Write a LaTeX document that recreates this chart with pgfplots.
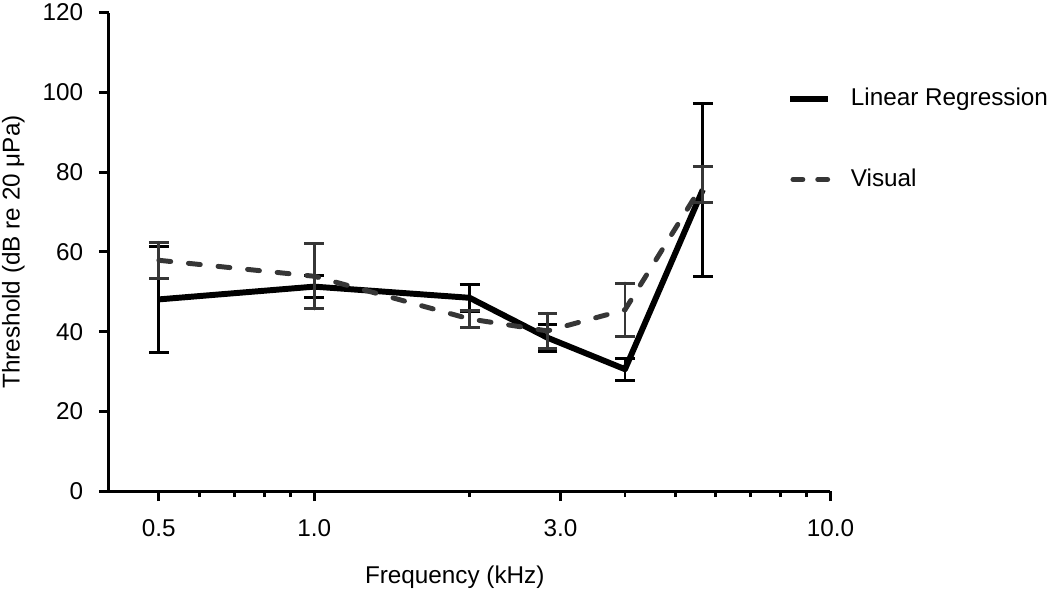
\documentclass[border=0pt]{standalone}
\usepackage{fontspec}
\setmainfont{Liberation Sans}
\usepackage{pgfplots}
\usepackage{pgfplotstable}
\pgfplotsset{compat=1.18}
\definecolor{dgray}{HTML}{363636}
\pgfplotstableread{
x y e
0.5 48.1 13.3
1 51.3 2.7
2 48.5 3.4
2.83 38.5 3.4
4 30.6 2.8
5.66 75.6 21.7
}\lrdata
\pgfplotstableread{
x y e
0.5 57.9 4.5
1 53.9 8.2
2 43.2 2.1
2.83 40.2 4.4
4 45.5 6.7
5.66 77.0 4.5
}\visdata
\begin{document}
\begin{tikzpicture}[font=\fontsize{12.25pt}{14pt}\selectfont]
\begin{axis}[
  scale only axis, width=364pt, height=241.5pt,
  xmode=log, xmin=0.4, xmax=10, ymin=0, ymax=120,
  xtick={0.5,1,3,10}, xticklabels={0.5,1.0,3.0,10.0},
  minor xtick={0.6,0.7,0.8,0.9,2,4,5,6,7,8,9},
  ytick={0,20,...,120},
  axis lines=left, axis line style={-, line width=1.5pt, black},
  tick align=outside, major tick length=5pt, minor tick length=3pt,
  tick style={line width=1.5pt, black},
  /pgf/number format/assume math mode=true,
  yticklabel style={xshift=-4.5pt, inner ysep=2pt},
  xticklabel style={yshift=-5.5pt},
  xlabel={Frequency (kHz)}, ylabel={Threshold (dB re 20 μPa)},
  xlabel style={yshift=-8pt, xshift=-7.5pt},
  ylabel style={inner sep=1pt, yshift=4.5pt},
  legend style={draw=none, fill=none, at={(0.940,0.851)}, anchor=north west,
    inner xsep=0pt, inner ysep=0pt, nodes={inner ysep=2pt, inner xsep=1pt},
    row sep=26.5pt, /tikz/every odd column/.append style={column sep=9pt}},
  legend cell align=left,
  clip=false,
]
\addplot[black, line width=3pt, line join=round, mark=none,
  legend image code/.code={\draw[black, line width=3pt] (0pt,0pt) -- (19pt,0pt);},
  error bars/.cd, y dir=both, y explicit,
  error bar style={line width=1.5pt, black, solid},
  error mark options={rotate=90, mark size=5pt, line width=1.5pt, black, solid}]
  table[x=x, y=y, y error=e] {\lrdata};
\addlegendentry{Linear Regression}
\addplot[dgray, line width=2.5pt, line cap=round, dash pattern=on 6pt off 9pt, mark=none,
  legend image code/.code={\draw[dgray, line width=2.5pt, line cap=round, dash pattern=on 5pt off 7.5pt] (1.25pt,0pt) -- (19pt,0pt);},
  error bars/.cd, y dir=both, y explicit,
  error bar style={line width=1.5pt, dgray, solid},
  error mark options={rotate=90, mark size=5pt, line width=1.5pt, dgray, solid}]
  table[x=x, y=y, y error=e] {\visdata};
\addlegendentry{Visual}
\end{axis}
\end{tikzpicture}
\end{document}
